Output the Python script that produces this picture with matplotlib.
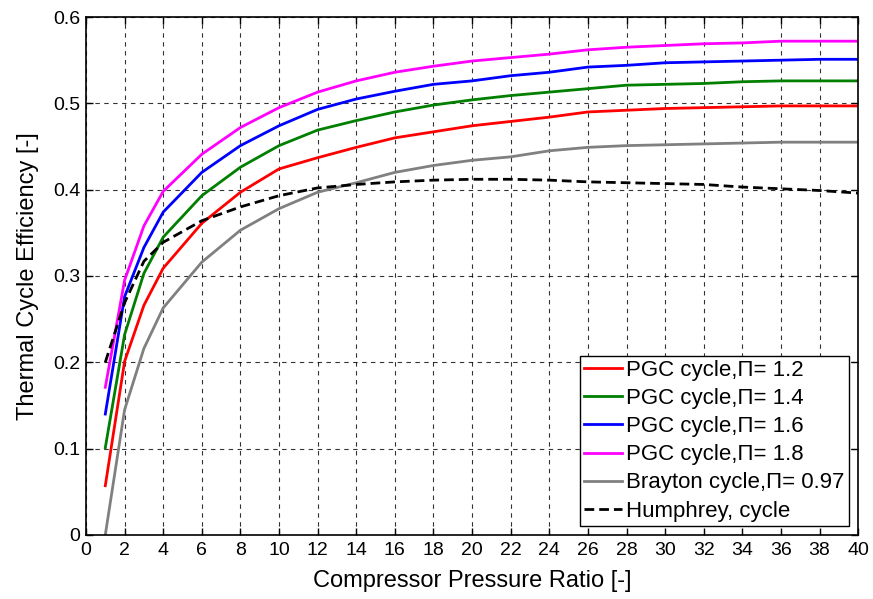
import matplotlib

matplotlib.use("Agg")
import matplotlib.pyplot as plt

plt.rcParams["font.family"] = ["Liberation Sans", "DejaVu Sans"]

pressure_ratio = [1, 2, 3, 4, 6, 8, 10, 12, 14, 16, 18, 20, 22, 24, 26, 28, 30, 32, 34, 36, 38, 40]

pgc_12 = [0.057, 0.201, 0.266, 0.309, 0.361, 0.397, 0.424, 0.437, 0.449, 0.460, 0.467, 0.474, 0.479,
          0.484, 0.490, 0.492, 0.494, 0.495, 0.496, 0.497, 0.497, 0.497]
pgc_14 = [0.101, 0.232, 0.303, 0.345, 0.393, 0.426, 0.451, 0.469, 0.480, 0.490, 0.498, 0.504, 0.509,
          0.513, 0.517, 0.521, 0.522, 0.523, 0.525, 0.526, 0.526, 0.526]
pgc_16 = [0.140, 0.276, 0.333, 0.374, 0.420, 0.451, 0.474, 0.493, 0.505, 0.514, 0.522, 0.526, 0.532,
          0.536, 0.542, 0.544, 0.547, 0.548, 0.549, 0.550, 0.551, 0.551]
pgc_18 = [0.171, 0.295, 0.358, 0.398, 0.441, 0.472, 0.495, 0.513, 0.526, 0.536, 0.543, 0.549, 0.553,
          0.557, 0.562, 0.565, 0.567, 0.569, 0.570, 0.572, 0.572, 0.572]
brayton = [0.000, 0.145, 0.216, 0.263, 0.316, 0.353, 0.378, 0.397, 0.408, 0.420, 0.428, 0.434, 0.438,
           0.445, 0.449, 0.451, 0.452, 0.453, 0.454, 0.455, 0.455, 0.455]
humphrey = [0.200, 0.269, 0.317, 0.339, 0.364, 0.380, 0.393, 0.402, 0.406, 0.409, 0.411, 0.412, 0.412,
            0.411, 0.409, 0.408, 0.407, 0.406, 0.403, 0.401, 0.399, 0.396]

series = [
    (pgc_12, "#ff0000", "-", "PGC cycle,Π= 1.2"),
    (pgc_14, "#007f00", "-", "PGC cycle,Π= 1.4"),
    (pgc_16, "#0000ff", "-", "PGC cycle,Π= 1.6"),
    (pgc_18, "#ff00ff", "-", "PGC cycle,Π= 1.8"),
    (brayton, "#808080", "-", "Brayton cycle,Π= 0.97"),
    (humphrey, "#000000", "--", "Humphrey, cycle"),
]

fig = plt.figure(figsize=(8.73, 5.99), dpi=100)
ax = fig.add_axes([0.0985, 0.107, 0.8845, 0.8646])

for values, color, style, label in series:
    ax.plot(pressure_ratio, values, color=color, linestyle=style, linewidth=2.0, label=label,
            dashes=(3.5, 1.8) if style == "--" else (None, None))

ax.set_xlim(0, 40)
ax.set_ylim(0, 0.6)
ax.set_xticks(range(0, 41, 2))
ax.set_yticks([0, 0.1, 0.2, 0.3, 0.4, 0.5, 0.6])
ax.set_yticklabels(["0", "0.1", "0.2", "0.3", "0.4", "0.5", "0.6"])
ax.tick_params(direction="in", top=True, right=True, labelsize=14, length=5, width=1)
ax.tick_params(axis="x", pad=5)
ax.tick_params(axis="y", pad=4)
ax.grid(True, color="black", linestyle=(0, (4, 4)), linewidth=0.8, alpha=0.8)
for spine in ax.spines.values():
    spine.set_linewidth(1.2)

ax.set_xlabel("Compressor Pressure Ratio [-]", fontsize=17, labelpad=8)
ax.set_ylabel("Thermal Cycle Efficiency [-]", fontsize=17, labelpad=10)

leg = ax.legend(loc="lower right", fontsize=16, fancybox=False, framealpha=1, edgecolor="black",
                handlelength=1.7, handletextpad=0.2, labelspacing=0.32, borderpad=0.2,
                borderaxespad=0.4)
leg.get_frame().set_linewidth(1.0)

fig.savefig("out.png", dpi=100)
plt.close(fig)
